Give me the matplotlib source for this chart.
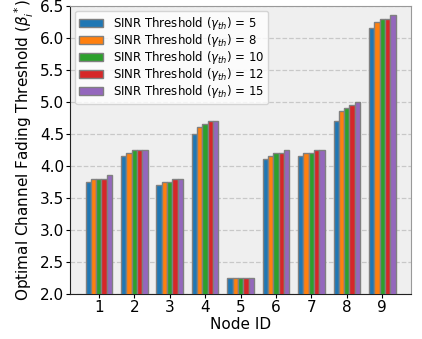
import matplotlib
matplotlib.use("Agg")
import matplotlib.pyplot as plt
import numpy as np

nodes = [1, 2, 3, 4, 5, 6, 7, 8, 9]
thresholds = [5, 8, 10, 12, 15]
beta_g5 = [3.75, 4.15, 3.70, 4.50, 2.25, 4.10, 4.15, 4.70, 6.15]
beta_g8 = [3.80, 4.20, 3.75, 4.60, 2.25, 4.15, 4.20, 4.85, 6.25]
beta_g10 = [3.80, 4.25, 3.75, 4.65, 2.25, 4.20, 4.20, 4.90, 6.30]
beta_g12 = [3.80, 4.25, 3.80, 4.70, 2.25, 4.20, 4.25, 4.95, 6.30]
beta_g15 = [3.85, 4.25, 3.80, 4.70, 2.25, 4.25, 4.25, 5.00, 6.35]
series = [beta_g5, beta_g8, beta_g10, beta_g12, beta_g15]
colors = ["#1f77b4", "#ff7f0e", "#2ca02c", "#d62728", "#9467bd"]

fig = plt.figure(figsize=(4.22, 3.39), dpi=100)
ax = fig.add_axes([0.166, 0.133, 0.808, 0.850])
ax.set_facecolor("#efefef")
x = np.array(nodes, dtype=float)
w = 0.15
for i, (vals, c, g) in enumerate(zip(series, colors, thresholds)):
    ax.bar(x + (i - 2) * w, vals, width=w, color=c, edgecolor="gray", linewidth=1,
           label=r"SINR Threshold ($\gamma_{th}$) = %d" % g, zorder=3)
ax.set_ylim(2.0, 6.5)
ax.set_yticks(np.arange(2.0, 6.51, 0.5))
ax.set_xticks(nodes)
ax.grid(axis="y", linestyle="--", color="#c8c8c8", linewidth=0.9, zorder=0)
ax.set_axisbelow(True)
for s in ["top", "right"]:
    ax.spines[s].set_color("#999999")
for s in ["left", "bottom"]:
    ax.spines[s].set_color("#222222")
ax.tick_params(axis="both", labelsize=11, length=3)
ax.tick_params(axis="y", pad=1)
ax.tick_params(axis="x", pad=1.5)
ax.set_xlabel("Node ID", fontsize=11, labelpad=1)
ax.set_ylabel(r"Optimal Channel Fading Threshold ($\beta_i^*$)", fontsize=11, labelpad=3)
ax.legend(loc="upper left", fontsize=8.5, frameon=True, handlelength=2.0,
          labelspacing=0.0, borderpad=0.35, handletextpad=0.8, borderaxespad=0.45,
          edgecolor="#cccccc")
fig.savefig("out.png", dpi=100)
